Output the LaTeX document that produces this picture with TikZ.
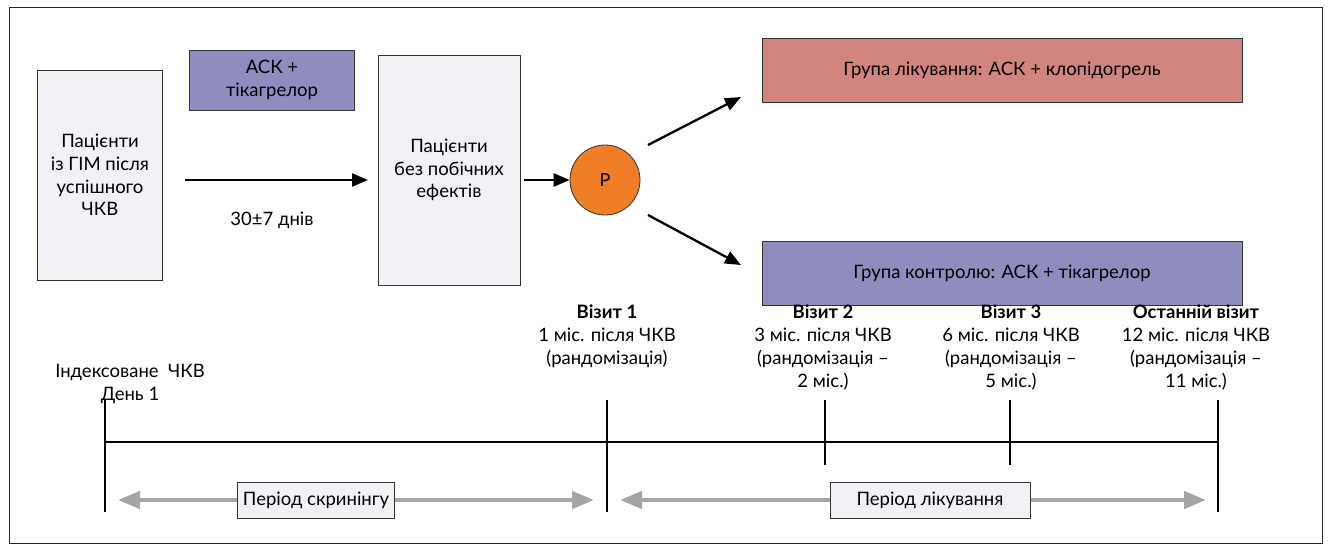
\documentclass[tikz,border=0pt]{standalone}
\usepackage{fontspec}
\setmainfont{Lato}
\usetikzlibrary{arrows.meta,positioning}
\definecolor{boxgray}{HTML}{F1F2F6}
\definecolor{lilac}{HTML}{8F8CBF}
\definecolor{rose}{HTML}{D2847E}
\definecolor{orng}{HTML}{EF7E26}
\definecolor{arrgray}{HTML}{A5A5A5}
\tikzset{
  txt/.style={font=\fontsize{18.5}{22.7}\selectfont, align=center, inner sep=0pt},
  graybox/.style={draw=black!80, line width=0.8pt, fill=boxgray, txt},
  lilacbox/.style={draw=black!80, line width=0.8pt, fill=lilac, txt},
  rosebox/.style={draw=black!80, line width=0.8pt, fill=rose, txt},
  blackarr/.style={line width=2.3pt, -{Triangle[length=16pt,width=13pt]}},
  grayarr/.style={line width=4.5pt, draw=arrgray, {Triangle[length=22pt,width=17pt]}-{Triangle[length=22pt,width=17pt]}},
  tick/.style={line width=2.2pt},
  vislabel/.style={txt, anchor=north}
}
\begin{document}
\begin{tikzpicture}[x=1pt,y=-1pt]
\useasboundingbox (0,0) rectangle (1332,552);
\draw[line width=0.9pt, draw=black!85] (9,7) rectangle (1322,543);
% top flow
\node[graybox, minimum width=125pt, minimum height=210pt] (pat) at (100,175) {Пацієнти\\із ГІМ після\\успішного\\ЧКВ};
\node[lilacbox, minimum width=165pt, minimum height=60pt] (ask) at (272,80) {АСК +\\тікагрелор};
\node[graybox, minimum width=142pt, minimum height=230pt] (pat2) at (449,170) {Пацієнти\\без побічних\\ефектів};
\node[txt] (days) at (272,220) {30±7 днів};
\coordinate (a1s) at (185,180);
\coordinate (a1e) at (368,180);
\draw[blackarr] (a1s) -- (a1e);
\node[circle, draw=black!80, line width=0.8pt, fill=orng, minimum size=70pt, inner sep=0pt, font=\fontsize{18}{20}\selectfont] (r) at (605,180) {P};
\coordinate (a2s) at (524,180);
\draw[blackarr] (a2s) -- (r.west);
\node[rosebox, minimum width=480pt, minimum height=64pt] (trt) at (1002,70) {Група лікування: АСК + клопідогрель};
\node[lilacbox, minimum width=480pt, minimum height=64pt] (ctl) at (1002,273) {Група контролю: АСК + тікагрелор};
\coordinate (b1s) at (648,145);
\coordinate (b1e) at (741,97);
\coordinate (b2s) at (648,215);
\coordinate (b2e) at (741,265);
\draw[blackarr] (b1s) -- (b1e);
\draw[blackarr] (b2s) -- (b2e);
% timeline
\coordinate (t0) at (105,442);
\coordinate (t4) at (1218,442);
\draw[tick] (t0) -- (t4);
\draw[tick] (105,400) -- (105,512);
\draw[tick] (607,400) -- (607,512);
\draw[tick] (825,400) -- (825,465);
\draw[tick] (1010,400) -- (1010,465);
\draw[tick] (1218,400) -- (1218,512);
% gray arrows
\coordinate (g1s) at (118,500);
\coordinate (g1e) at (594,500);
\coordinate (g2s) at (620,500);
\coordinate (g2e) at (1206,500);
\draw[grayarr] (g1s) -- (g1e);
\draw[grayarr] (g2s) -- (g2e);
\node[graybox, minimum width=157pt, minimum height=36pt] (scr) at (316,500) {Період скринінгу};
\node[graybox, minimum width=200pt, minimum height=36pt] (lik) at (930,500) {Період лікування};
% labels
\node[txt] (idx) at (130,384) {Індексоване\ \ ЧКВ\\День 1};
\node[vislabel] (v1) at (607,305) {\textbf{Візит 1}\\1 міс. після ЧКВ\\(рандомізація)};
\node[vislabel] (v2) at (823,305) {\textbf{Візит 2}\\3 міс. після ЧКВ\\(рандомізація –\\2 міс.)};
\node[vislabel] (v3) at (1011,305) {\textbf{Візит 3}\\6 міс. після ЧКВ\\(рандомізація –\\5 міс.)};
\node[vislabel] (v4) at (1196,305) {\textbf{Останній візит}\\12 міс. після ЧКВ\\(рандомізація –\\11 міс.)};
\end{tikzpicture}
\end{document}
